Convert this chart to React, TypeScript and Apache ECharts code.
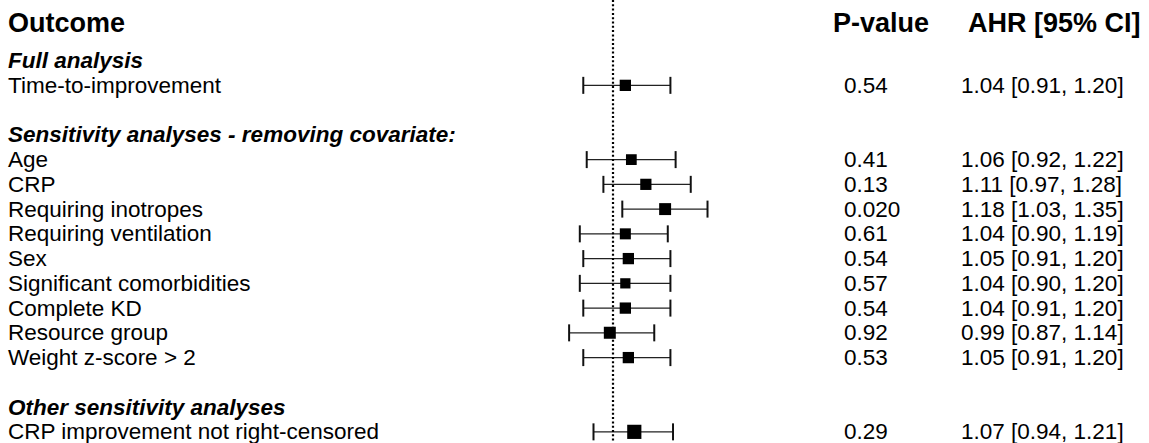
import React, { useEffect, useRef } from "react";
import * as echarts from "echarts";

// ---------- data ----------
const headers = ["Outcome", "P-value", "AHR [95% CI]"];
const sectionTitles = [
  "Full analysis",
  "Sensitivity analyses - removing covariate:",
  "Other sensitivity analyses",
];
const sectionCounts = [1, 9, 1];
const outcomes = [
  "Time-to-improvement",
  "Age",
  "CRP",
  "Requiring inotropes",
  "Requiring ventilation",
  "Sex",
  "Significant comorbidities",
  "Complete KD",
  "Resource group",
  "Weight z-score > 2",
  "CRP improvement not right-censored",
];
const ahr = [1.04, 1.06, 1.11, 1.18, 1.04, 1.05, 1.04, 1.04, 0.99, 1.05, 1.07];
const ciLow = [0.91, 0.92, 0.97, 1.03, 0.9, 0.91, 0.9, 0.91, 0.87, 0.91, 0.94];
const ciHigh = [1.2, 1.22, 1.28, 1.35, 1.19, 1.2, 1.2, 1.2, 1.14, 1.2, 1.21];
const pValues = ["0.54", "0.41", "0.13", "0.020", "0.61", "0.54", "0.57", "0.54", "0.92", "0.53", "0.29"];
const referenceLine = 1;

// ---------- layout ----------
const W = 1149;
const H = 443;
const FONT = 'Arial, "Liberation Sans", Helvetica, sans-serif';
const ROW_MIN = -2.4485;
const ROW_MAX = 15.4505;

type TextItem = { x: number; row: number; text: string; kind: "header" | "section" | "body" };

function buildRows() {
  const sectionRows: number[] = [];
  const itemRows: number[] = [];
  let row = 0;
  sectionCounts.forEach((c) => {
    sectionRows.push(row);
    row++;
    for (let i = 0; i < c; i++) {
      itemRows.push(row);
      row++;
    }
    row++;
  });
  return { sectionRows, itemRows };
}

export default function App() {
  const ref = useRef<HTMLDivElement>(null);

  useEffect(() => {
    document.body.style.margin = "0";
    if (!ref.current) return;
    const chart = echarts.init(ref.current, undefined, { renderer: "svg" });
    const { sectionRows, itemRows } = buildRows();

    const texts: TextItem[] = [];
    const headerRow = -1.5;
    const headerX = [8, 833, 968];
    headers.forEach((h, i) => texts.push({ x: headerX[i], row: headerRow, text: h, kind: "header" }));
    sectionTitles.forEach((s, i) => texts.push({ x: 8, row: sectionRows[i], text: s, kind: "section" }));
    outcomes.forEach((o, i) => {
      texts.push({ x: 8, row: itemRows[i], text: o, kind: "body" });
      texts.push({ x: 844, row: itemRows[i], text: pValues[i], kind: "body" });
      texts.push({
        x: 961,
        row: itemRows[i],
        text: `${ahr[i].toFixed(2)} [${ciLow[i].toFixed(2)}, ${ciHigh[i].toFixed(2)}]`,
        kind: "body",
      });
    });

    const forestData = outcomes.map((_, i) => [ahr[i], itemRows[i], ciLow[i], ciHigh[i]]);

    const option: any = {
      animation: false,
      backgroundColor: "#ffffff",
      grid: [
        { left: 0, top: 0, width: W, height: H },
        { left: 542.7, top: 0, width: 198, height: H },
      ],
      xAxis: [
        { type: "value", gridIndex: 0, min: 0, max: W, show: false },
        { type: "log", gridIndex: 1, min: 0.8, max: 1.5, show: false, logBase: 10 },
      ],
      yAxis: [
        { type: "value", gridIndex: 0, min: ROW_MIN, max: ROW_MAX, inverse: true, show: false },
        { type: "value", gridIndex: 1, min: ROW_MIN, max: ROW_MAX, inverse: true, show: false },
      ],
      series: [
        {
          type: "custom",
          xAxisIndex: 0,
          yAxisIndex: 0,
          silent: true,
          data: texts.map((t) => [t.x, t.row]),
          renderItem: (params: any, api: any) => {
            const t = texts[params.dataIndex];
            const p = api.coord([t.x, t.row]);
            const size = t.kind === "header" ? 27 : 22.5;
            return {
              type: "text",
              x: p[0],
              y: p[1],
              style: {
                text: t.text,
                fill: "#000",
                fontSize: size,
                fontFamily: FONT,
                fontWeight: t.kind === "body" ? "normal" : "bold",
                fontStyle: t.kind === "section" ? "italic" : "normal",
                align: "left",
                verticalAlign: "middle",
              },
            };
          },
        },
        {
          type: "custom",
          xAxisIndex: 1,
          yAxisIndex: 1,
          silent: true,
          data: forestData,
          renderItem: (params: any, api: any) => {
            const hr = api.value(0);
            const row = api.value(1);
            const lo = api.value(2);
            const hi = api.value(3);
            const pL = api.coord([lo, row]);
            const pH = api.coord([hi, row]);
            const pM = api.coord([hr, row]);
            const w = Math.log(hi / lo);
            const box = 11.3 * Math.pow(0.2766 / w, 2.5);
            const cap = 8.5;
            const ls = { stroke: "#222", lineWidth: 1.4 };
            return {
              type: "group",
              children: [
                { type: "line", shape: { x1: pL[0], y1: pL[1], x2: pH[0], y2: pH[1] }, style: ls },
                { type: "line", shape: { x1: pL[0], y1: pL[1] - cap, x2: pL[0], y2: pL[1] + cap }, style: { stroke: "#111", lineWidth: 2 } },
                { type: "line", shape: { x1: pH[0], y1: pH[1] - cap, x2: pH[0], y2: pH[1] + cap }, style: { stroke: "#111", lineWidth: 2 } },
                {
                  type: "rect",
                  shape: { x: pM[0] - box / 2, y: pM[1] - box / 2, width: box, height: box },
                  style: { fill: "#000" },
                },
              ],
            };
          },
          markLine: {
            silent: true,
            symbol: "none",
            label: { show: false },
            lineStyle: { color: "#000", width: 2.2, type: [2, 2.3], opacity: 1 },
            data: [{ xAxis: referenceLine }],
          },
        },
      ],
    };

    chart.setOption(option);
    return () => chart.dispose();
  }, []);

  return <div ref={ref} style={{ width: W, height: H }} />;
}
